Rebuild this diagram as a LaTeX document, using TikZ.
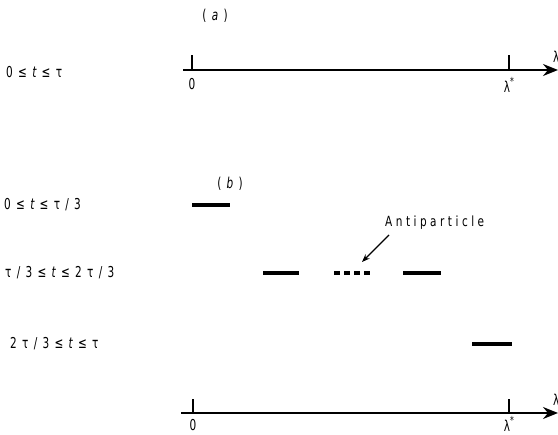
\documentclass[tikz,border=0pt]{standalone}
\usepackage{fontspec}
\setmainfont{DejaVu Sans}
\newfontfamily\lab[FakeStretch=0.7]{DejaVu Sans}
\newfontfamily\labb[FakeStretch=0.75,LetterSpace=25]{DejaVu Sans}
\newcommand\gp{\hspace{5.3pt}}
\usetikzlibrary{arrows.meta}
\begin{document}
\begin{tikzpicture}[x=1pt,y=-1pt,
  lbl/.style={font=\lab\fontsize{15}{17}\selectfont, inner sep=0pt},
  txt/.style={font=\labb\fontsize{14}{16}\selectfont, inner sep=0pt},
  axis/.style={line width=1.8pt,-{Stealth[length=15pt,width=12pt,inset=5pt]}},
  tick/.style={line width=1.3pt},
  bar/.style={line width=3.5pt},
  dbar/.style={line width=3.5pt,dash pattern=on 6pt off 4pt},
  pointer/.style={line width=1.1pt,-{Stealth[length=8pt,width=6pt]}}]
\useasboundingbox (0,0) rectangle (558,435);

% panel titles
\node[lbl] (ta) at (215,16) {(\gp{\itshape a}\gp)};
\node[lbl] (tb) at (230,184) {(\gp{\itshape b}\gp)};

% row labels
\node[lbl,anchor=west] (r0) at (6,72) {0\gp≤\gp{\itshape t}\gp≤\gp τ};
\node[lbl,anchor=west] (r1) at (4,205) {0\gp≤\gp{\itshape t}\gp≤\gp τ\gp/\gp 3};
\node[lbl,anchor=west] (r2) at (5,273) {τ\gp/\gp 3\gp≤\gp{\itshape t}\gp≤\gp 2\gp τ\gp/\gp 3};
\node[lbl,anchor=west] (r3) at (10,344) {2\gp τ\gp/\gp 3\gp≤\gp{\itshape t}\gp≤\gp τ};

% top axis
\coordinate (a0) at (183,70);
\coordinate (a1) at (558,70);
\coordinate (ta0) at (192,70);
\coordinate (ta1) at (509,70);
\draw[axis] (a0) -- (a1);
\draw[tick] (ta0) -- ++(0,-15);
\draw[tick] (ta1) -- ++(0,-15);
\node[lbl] (z0) at (192,84) {0};
\node[lbl] (l0) at (509,85) {λ\raisebox{0.9ex}{\fontsize{11}{11}\selectfont *}};
\node[lbl,anchor=west] (lam0) at (553,57) {λ};

% bottom axis
\coordinate (b0) at (181,413);
\coordinate (b1) at (558,413);
\coordinate (tb0) at (193,413);
\coordinate (tb1) at (509,413);
\draw[axis] (b0) -- (b1);
\draw[tick] (tb0) -- ++(0,-14);
\draw[tick] (tb1) -- ++(0,-14);
\node[lbl] (z1) at (193,425) {0};
\node[lbl,anchor=south] (l1) at (509,432) {λ\raisebox{0.9ex}{\fontsize{11}{11}\selectfont *}};
\node[lbl,anchor=west] (lam1) at (553,400) {λ};

% particle bars
\draw[bar] (192,205) -- (230,205);
\draw[bar] (263,273) -- (299,273);
\draw[dbar] (334,273) -- (370,273);
\draw[bar] (403,273) -- (441,273);
\draw[bar] (472,344) -- (512,344);

% antiparticle label
\node[txt,anchor=west] (anti) at (385,223) {Antiparticle};
\coordinate (tip) at (362,262);
\draw[pointer] ([shift={(4,5)}]anti.south west) -- (tip);
\end{tikzpicture}
\end{document}
